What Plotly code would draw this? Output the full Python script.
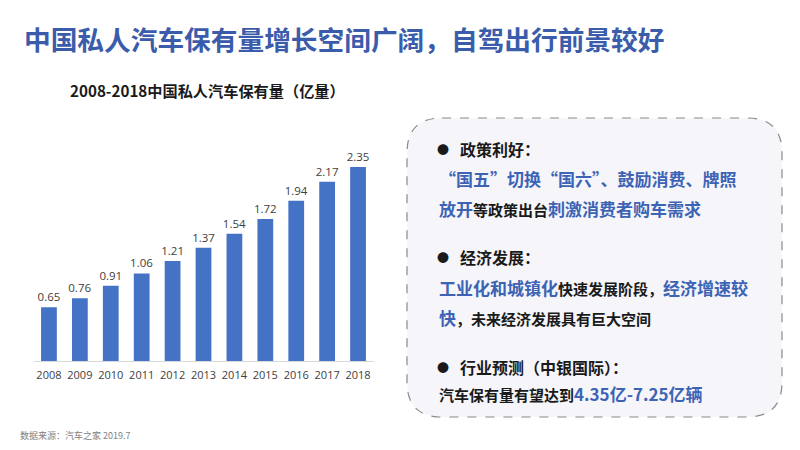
import plotly.graph_objects as go

years = ["2008", "2009", "2010", "2011", "2012", "2013", "2014", "2015", "2016", "2017", "2018"]
values = [0.65, 0.76, 0.91, 1.06, 1.21, 1.37, 1.54, 1.72, 1.94, 2.17, 2.35]

main_title = "中国私人汽车保有量增长空间广阔，自驾出行前景较好"
chart_title = "2008-2018中国私人汽车保有量（亿量）"
source_text = "数据来源：汽车之家 2019.7"

# page body has an 8px margin, so the figure is slightly smaller and offset
OFF = 8
W, H = 800 - 2 * OFF, 450 - 2 * OFF
FONT = "Noto Sans CJK SC"
BLUE_T = "#3B5CAA"
BLUE = "#3D63B5"
BAR = "#4472C4"
DARK = "#1A1A1A"


def px(x):
    return (x - OFF) / W


def py(y):
    return 1 - (y - OFF) / H


fig = go.Figure()
fig.add_trace(go.Bar(
    x=years, y=values,
    marker=dict(color=BAR, line=dict(width=0)),
    texttemplate="%{y:.2f}", textposition="outside", constraintext="none",
    textfont=dict(size=11.5, color="#404040", family="Open Sans"),
    cliponaxis=False, hoverinfo="skip",
))

# rounded dashed box
x0, x1, y0, y1, r = 407, 782, 118, 417, 35
pts = [
    ("M", [(x0 + r, y0)]), ("L", [(x1 - r, y0)]), ("Q", [(x1, y0), (x1, y0 + r)]),
    ("L", [(x1, y1 - r)]), ("Q", [(x1, y1), (x1 - r, y1)]),
    ("L", [(x0 + r, y1)]), ("Q", [(x0, y1), (x0, y1 - r)]),
    ("L", [(x0, y0 + r)]), ("Q", [(x0, y0), (x0 + r, y0)]),
]
path = " ".join(cmd + " " + " ".join(f"{px(a):.5f},{py(b):.5f}" for a, b in p) for cmd, p in pts) + " Z"
fig.add_shape(type="path", path=path, xref="paper", yref="paper",
              fillcolor="#F5F5FA", line=dict(color="#8A8A8A", width=1.2, dash="dash"),
              layer="below")


def ann(x, y, text, size, color=DARK, xanchor="left"):
    fig.add_annotation(x=px(x), y=py(y), xref="paper", yref="paper", text=text,
                       showarrow=False, xanchor=xanchor, yanchor="middle",
                       font=dict(family=FONT, size=size, color=color))


def b(s, c=BLUE, size=17):
    return f'<span style="color:{c};font-size:{size}px"><b>{s}</b></span>'


def k(s, size=15):
    return f'<span style="color:{DARK};font-size:{size}px"><b>{s}</b></span>'


ann(22, 39, f"<b>{main_title}</b>", 26.7, BLUE_T)
ann(68, 90, f"<b>{chart_title}</b>", 15.2, DARK)
ann(18, 435.5, source_text, 9, "#808080")

# bullets and headings
for yy, head in [(149, "政策利好："), (257, "经济发展："), (367, "行业预测（中银国际）：")]:
    ann(443, yy, "●", 12, DARK, xanchor="center")
    ann(458, yy, f"<b>{head}</b>", 16, DARK)

ann(437, 178, b("“国五”切换“国六”、鼓励消费、牌照"), 17)
ann(437, 208, b("放开") + k("等政策出台") + b("刺激消费者购车需求"), 17)
ann(437, 287, b("工业化和城镇化") + k("快速发展阶段，") + b("经济增速较"), 17)
ann(437, 317, b("快") + k("，未来经济发展具有巨大空间"), 17)
ann(437, 393, k("汽车保有量有望达到") + b("4.35亿-7.25亿辆"), 17)

fig.update_layout(
    width=W, height=H, margin=dict(l=0, r=0, t=0, b=0),
    paper_bgcolor="white", plot_bgcolor="white",
    showlegend=False, bargap=0.49,
    font=dict(family=FONT),
    xaxis=dict(domain=[px(33.5), px(373.5)], showline=True, linecolor="#D9D9D9",
               linewidth=1, ticks="", showgrid=False, zeroline=False,
               tickfont=dict(size=11, color="#404040", family="Open Sans"),
               ticklabelstandoff=4, fixedrange=True),
    yaxis=dict(domain=[py(361), py(140)], range=[0, 221 / 82.6], visible=False,
               showgrid=False, zeroline=False, fixedrange=True),
)

fig.write_html("out.html")
